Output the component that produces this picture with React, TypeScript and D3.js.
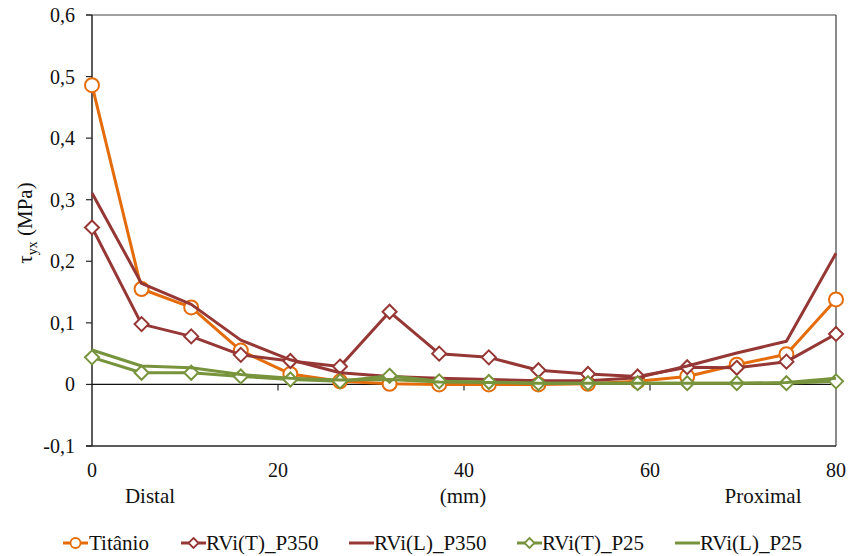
import React from "react";
import * as d3 from "d3";

// Positions along the implant (mm), 16 sampling stations from distal to proximal
const positions = [0, 5.33, 10.67, 16, 21.33, 26.67, 32, 37.33, 42.67, 48, 53.33, 58.67, 64, 69.33, 74.67, 80];

// Shear stress tau_yx (MPa) for each series
const titanio = [0.486, 0.155, 0.125, 0.055, 0.017, 0.005, 0.001, 0.0, 0.0, 0.0, 0.001, 0.005, 0.013, 0.032, 0.049, 0.138];
const rviT350 = [0.255, 0.098, 0.078, 0.048, 0.038, 0.029, 0.118, 0.05, 0.044, 0.023, 0.017, 0.013, 0.028, 0.027, 0.037, 0.082];
const rviL350 = [0.311, 0.164, 0.13, 0.072, 0.04, 0.019, 0.013, 0.01, 0.008, 0.006, 0.006, 0.011, 0.03, 0.051, 0.07, 0.213];
const rviT25 = [0.044, 0.019, 0.019, 0.013, 0.008, 0.005, 0.014, 0.005, 0.004, 0.002, 0.002, 0.002, 0.002, 0.002, 0.002, 0.005];
const rviL25 = [0.056, 0.03, 0.027, 0.016, 0.01, 0.007, 0.008, 0.004, 0.003, 0.002, 0.002, 0.002, 0.002, 0.002, 0.003, 0.01];

const seriesNames = ["Titânio", "RVi(T)_P350", "RVi(L)_P350", "RVi(T)_P25", "RVi(L)_P25"];

const xTicks = [0, 20, 40, 60, 80];
const yTicks = [-0.1, 0, 0.1, 0.2, 0.3, 0.4, 0.5, 0.6];

type Marker = "circle" | "diamond" | "none";
interface Series { name: string; values: number[]; color: string; marker: Marker; }

const ORANGE = "#E46C0A";
const RED = "#953735";
const GREEN = "#77933C";

const series: Series[] = [
  { name: seriesNames[0], values: titanio, color: ORANGE, marker: "circle" },
  { name: seriesNames[1], values: rviT350, color: RED, marker: "diamond" },
  { name: seriesNames[2], values: rviL350, color: RED, marker: "none" },
  { name: seriesNames[3], values: rviT25, color: GREEN, marker: "diamond" },
  { name: seriesNames[4], values: rviL25, color: GREEN, marker: "none" },
];

const W = 851;
const H = 556;
const plot = { left: 92, right: 836, top: 15, bottom: 446 };
const FONT = "Liberation Serif";
const FS_TICK = 20;
const FS = 21;

const x = d3.scaleLinear().domain([0, 80]).range([plot.left, plot.right]);
const y = d3.scaleLinear().domain([-0.1, 0.6]).range([plot.bottom, plot.top]);

const line = d3
  .line<number>()
  .x((_, i) => x(positions[i]))
  .y((v) => y(v));

function Label(props: React.SVGProps<SVGTextElement> & { size?: number }) {
  const { size = FS, ...rest } = props;
  return <text fill="#111" {...rest} style={{ fontFamily: FONT, fontSize: size }} />;
}

function MarkerShape({ type, cx, cy, color }: { type: Marker; cx: number; cy: number; color: string }) {
  if (type === "circle") {
    return <circle cx={cx} cy={cy} r={7} fill="#fff" stroke={color} strokeWidth={2} />;
  }
  if (type === "diamond") {
    const s = 7;
    return (
      <path
        d={`M${cx},${cy - s}L${cx + s},${cy}L${cx},${cy + s}L${cx - s},${cy}Z`}
        fill="#fff"
        stroke={color}
        strokeWidth={2}
      />
    );
  }
  return null;
}

const legendItems = [
  { x0: 63, textX: 89 },
  { x0: 181, textX: 206 },
  { x0: 349, textX: 374 },
  { x0: 517, textX: 542 },
  { x0: 675, textX: 700 },
];

const fmtY = (t: number) => (Math.abs(t) < 1e-9 ? "0" : d3.format(".1f")(t).replace(".", ",").replace("−", "-"));

export default function App() {
  const y0 = y(0);
  return (
    <svg width={W} height={H} style={{ display: "block", position: "absolute", left: 0, top: 0 }}>
      <rect width={W} height={H} fill="#fff" />

      {/* plot frame */}
      <line x1={plot.left - 6} x2={plot.right} y1={plot.top} y2={plot.top} stroke="#808080" strokeWidth={1.5} />
      <line x1={plot.right} x2={plot.right} y1={plot.top} y2={plot.bottom} stroke="#404040" strokeWidth={1.2} />
      <line x1={plot.left - 6} x2={plot.right} y1={plot.bottom} y2={plot.bottom} stroke="#262626" strokeWidth={1.5} />

      {/* y axis */}
      <line x1={plot.left} x2={plot.left} y1={plot.top} y2={plot.bottom} stroke="#262626" strokeWidth={1.5} />
      {yTicks.map((t) => (
        <g key={t}>
          <line x1={plot.left - 6} x2={plot.left} y1={y(t)} y2={y(t)} stroke="#262626" strokeWidth={1.2} />
          <Label x={75} y={y(t) + 7} size={FS_TICK} textAnchor="end">
            {fmtY(t)}
          </Label>
        </g>
      ))}

      {/* x axis at zero */}
      <line x1={plot.left} x2={plot.right} y1={y0} y2={y0} stroke="#111" strokeWidth={1.2} />
      {xTicks.map((t) => (
        <g key={t}>
          {t > 0 && t < 80 && <line x1={x(t)} x2={x(t)} y1={y0} y2={y0 + 6} stroke="#262626" strokeWidth={1.2} />}
          <Label x={x(t)} y={477} size={FS_TICK} textAnchor="middle">
            {String(t)}
          </Label>
        </g>
      ))}

      <Label x={150} y={503} textAnchor="middle">Distal</Label>
      <Label x={463} y={503} textAnchor="middle">(mm)</Label>
      <Label x={763} y={503} textAnchor="middle">Proximal</Label>

      {/* y axis title */}
      <g transform="translate(32,223) rotate(-90)">
        <text textAnchor="middle" fill="#111" style={{ fontFamily: FONT, fontSize: FS }}>
          τ<tspan dy={5} style={{ fontSize: 14 }}>yx</tspan><tspan dy={-5}> (MPa)</tspan>
        </text>
      </g>

      {/* series */}
      {series.map((s) => (
        <g key={s.name}>
          <path d={line(s.values) ?? ""} fill="none" stroke={s.color} strokeWidth={3} strokeLinejoin="round" />
          {s.values.map((v, i) => (
            <MarkerShape key={i} type={s.marker} cx={x(positions[i])} cy={y(v)} color={s.color} />
          ))}
        </g>
      ))}

      {/* legend */}
      {series.map((s, i) => {
        const it = legendItems[i];
        const ly = 543;
        return (
          <g key={s.name}>
            <line x1={it.x0} x2={it.x0 + 25} y1={ly} y2={ly} stroke={s.color} strokeWidth={3} />
            {s.marker === "circle" && <circle cx={it.x0 + 12.5} cy={ly} r={5} fill="#fff" stroke={s.color} strokeWidth={1.8} />}
            {s.marker === "diamond" && (
              <path
                d={`M${it.x0 + 12.5},${ly - 5}l5,5l-5,5l-5,-5Z`}
                fill="#fff"
                stroke={s.color}
                strokeWidth={1.8}
              />
            )}
            <Label x={it.textX} y={ly + 7}>{s.name}</Label>
          </g>
        );
      })}
    </svg>
  );
}
